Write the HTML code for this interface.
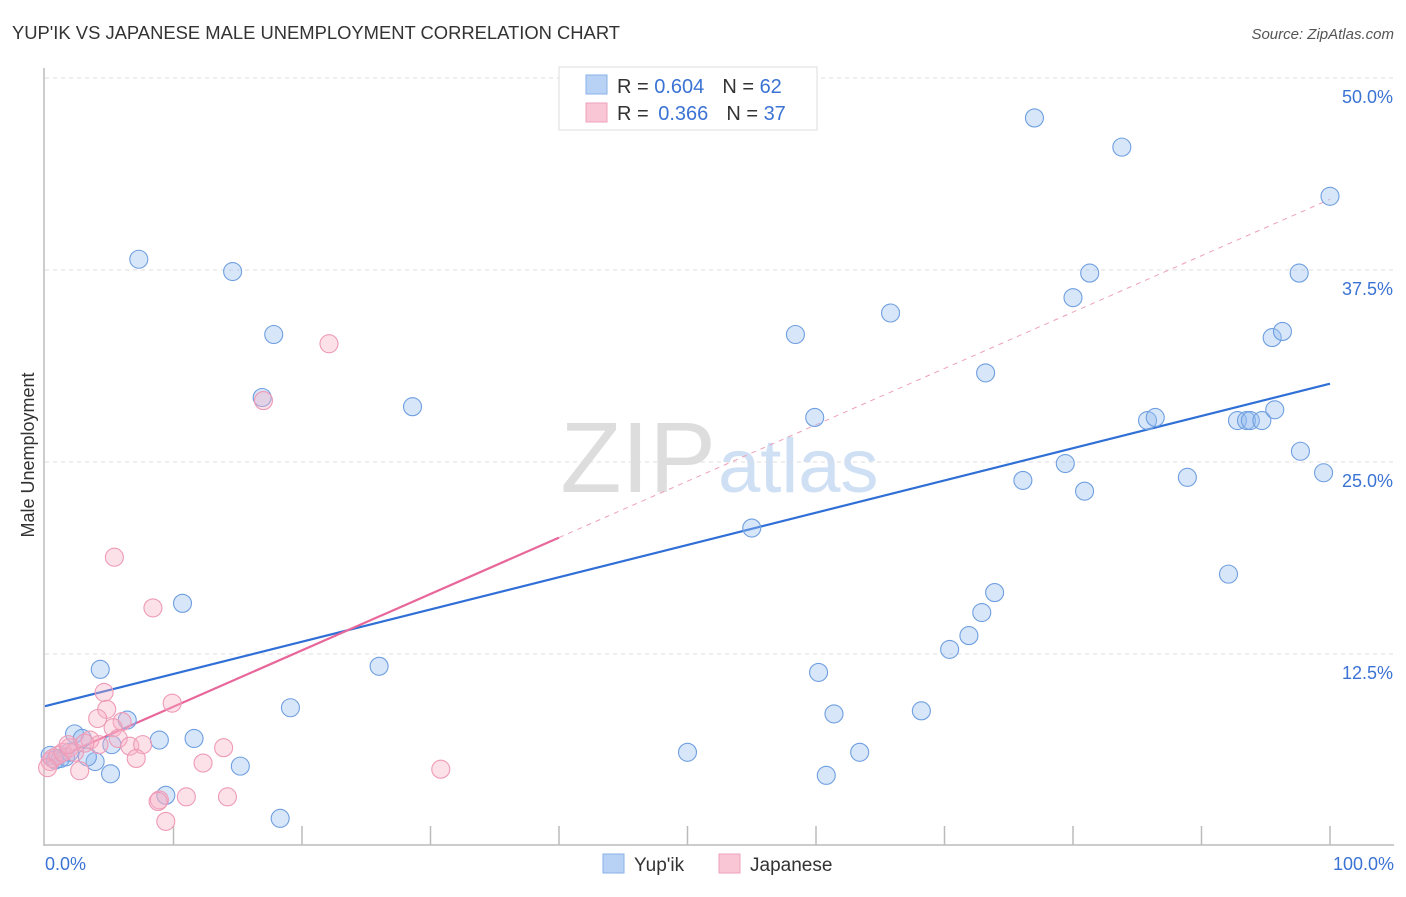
<!DOCTYPE html>
<html><head><meta charset="utf-8"><style>
body{margin:0;background:#fff;font-family:"Liberation Sans",sans-serif}
svg text{font-family:"Liberation Sans",sans-serif}
</style></head><body>
<svg id="c" width="1406" height="892" xmlns="http://www.w3.org/2000/svg">
<text x="12" y="39" font-size="18.4" fill="#333" textLength="608">YUP'IK VS JAPANESE MALE UNEMPLOYMENT CORRELATION CHART</text>
<text x="1394" y="39" font-size="15" fill="#555" font-style="italic" text-anchor="end">Source: ZipAtlas.com</text>
<text x="716" y="492" font-size="100" fill="#ddd" text-anchor="end" font-family="Liberation Serif">ZIP</text>
<text x="718" y="492" font-size="76" fill="#cfe0f5">atlas</text>
<text transform="translate(34,455) rotate(-90)" font-size="18" fill="#333" text-anchor="middle">Male Unemployment</text>
<g id="grid"></g><g id="axes"></g><g id="lines"></g><g id="pts"></g>
<g>
<rect x="559" y="67" width="258" height="63" fill="#fff" stroke="#ddd"/>
<rect x="586" y="75" width="21" height="19" fill="#b8d2f5" stroke="#8ab2e8"/>
<rect x="586" y="103" width="21" height="19" fill="#f9c6d5" stroke="#eea0b8"/>
<text x="617" y="93" font-size="20" fill="#333">R = <tspan fill="#3b73d4">0.604</tspan><tspan dx="18">N = </tspan><tspan fill="#3b73d4">62</tspan></text>
<text x="617" y="120" font-size="20" fill="#333">R = <tspan dx="4" fill="#3b73d4">0.366</tspan><tspan dx="18">N = </tspan><tspan fill="#3b73d4">37</tspan></text>
</g>
<g>
<rect x="603" y="854" width="21" height="19" fill="#b8d2f5" stroke="#8ab2e8"/>
<text x="634" y="871" font-size="19" fill="#333">Yup'ik</text>
<rect x="719" y="854" width="21" height="19" fill="#f9c6d5" stroke="#eea0b8"/>
<text x="750" y="871" font-size="19" fill="#333">Japanese</text>
</g>
</svg>
<script>
const yTicks=[12.5,25,37.5,50];
const yTickLabels=["12.5%","25.0%","37.5%","50.0%"];
const xTickLabels=["0.0%","100.0%"];
const yupikX=[7.3,14.6,17.8,16.9,28.6,10.7,4.3,26.0,19.1,6.4,2.3,2.9,8.9,11.6,5.2,3.9,3.3,15.2,5.1,9.4,18.3,0.4,0.8,1.2,1.6,1.9,50.0,55.0,58.4,59.9,60.2,61.4,60.8,63.4,65.8,68.2,70.4,71.9,72.9,73.9,73.2,76.1,77.0,79.4,80.0,80.9,81.3,83.8,85.8,86.4,88.9,92.1,92.8,93.5,93.8,94.7,95.7,95.5,96.3,97.6,97.7,99.5,100];
const yupikY=[38.2,37.4,33.3,29.2,28.6,15.8,11.5,11.7,9.0,8.2,7.3,7.0,6.9,7.0,6.6,5.5,5.8,5.2,4.7,3.3,1.8,5.9,5.6,5.7,5.8,6.1,6.1,20.7,33.3,27.9,11.3,8.6,4.6,6.1,34.7,8.8,12.8,13.7,15.2,16.5,30.8,23.8,47.4,24.9,35.7,23.1,37.3,45.5,27.7,27.9,24.0,17.7,27.7,27.7,27.7,27.7,28.4,33.1,33.5,37.3,25.7,24.3,42.3];
const japX=[22.1,17.0,5.4,8.4,4.6,9.9,4.8,4.1,6.0,5.3,5.7,3.5,4.2,6.6,7.6,13.9,7.1,2.7,30.8,12.3,8.9,8.8,11.0,14.2,9.4,0.4,0.6,1.0,1.4,1.9,2.3,0.2,1.8,3.1];
const japY=[32.7,29.0,18.8,15.5,10.0,9.3,8.9,8.3,8.1,7.7,7.0,6.9,6.6,6.5,6.6,6.4,5.7,4.9,5.0,5.4,3.0,2.9,3.2,3.2,1.6,5.5,5.7,5.9,6.1,6.4,6.1,5.1,6.6,6.7];
const yupikFit=[9.1,30.1];
const japFit=[5.4,42.1];
const japFitEnd=40;
const X=v=>45+v*12.85, Y=v=>846-v*15.36;
const NS="http://www.w3.org/2000/svg";
function mk(p,t,a){const e=document.createElementNS(NS,t);for(const k in a)e.setAttribute(k,a[k]);document.getElementById(p).appendChild(e);return e;}
yTicks.forEach((t,i)=>{
 const g=mk('grid','line',{x1:45,x2:1394,y1:Y(t),y2:Y(t),stroke:'#ddd','stroke-dasharray':'4,4'});
 
 
 const l=mk('grid','text',{x:1393,y:Y(t)+25,'font-size':18,fill:'#3b73d4','text-anchor':'end'});
 l.textContent=yTickLabels[i];
 
 
});
mk('axes','line',{x1:44,x2:44,y1:68,y2:846,stroke:'#bbb','stroke-width':1.5});
const xa=mk('axes','line',{x1:44,x2:1394,y1:845,y2:845,stroke:'#bbb','stroke-width':1.5});


for(let i=1;i<=10;i++){mk('axes','line',{x1:X(i*10),x2:X(i*10),y1:826,y2:845,stroke:'#bbb','stroke-width':1.5});}
const x0=mk('axes','text',{x:45,y:870,'font-size':18,fill:'#3b73d4'});x0.textContent=xTickLabels[0];


const x1=mk('axes','text',{x:1394,y:870,'font-size':18,fill:'#3b73d4','text-anchor':'end'});x1.textContent=xTickLabels[1];


const jf=v=>japFit[0]+(japFit[1]-japFit[0])*v/100;
const d=mk('lines','line',{x1:X(japFitEnd),y1:Y(jf(japFitEnd)),x2:X(100),y2:Y(jf(100)),stroke:'#eea0b8','stroke-dasharray':'5,5'});


const bl=mk('lines','line',{x1:X(0),y1:Y(yupikFit[0]),x2:X(100),y2:Y(yupikFit[1]),stroke:'#2f6fd6','stroke-width':2.2});


const pl=mk('lines','line',{x1:X(0),y1:Y(jf(0)),x2:X(japFitEnd),y2:Y(jf(japFitEnd)),stroke:'#e8679a','stroke-width':2.2});


yupikX.forEach((v,i)=>{const c=mk('pts','circle',{cx:X(v),cy:Y(yupikY[i]),r:9,fill:'rgba(150,190,240,0.38)',stroke:'#6f9fe0','stroke-width':1.1});
 
 });
japX.forEach((v,i)=>{const c=mk('pts','circle',{cx:X(v),cy:Y(japY[i]),r:9,fill:'rgba(248,175,198,0.38)',stroke:'#ee9ab6','stroke-width':1.1});
 
 });
</script>
</body></html>
